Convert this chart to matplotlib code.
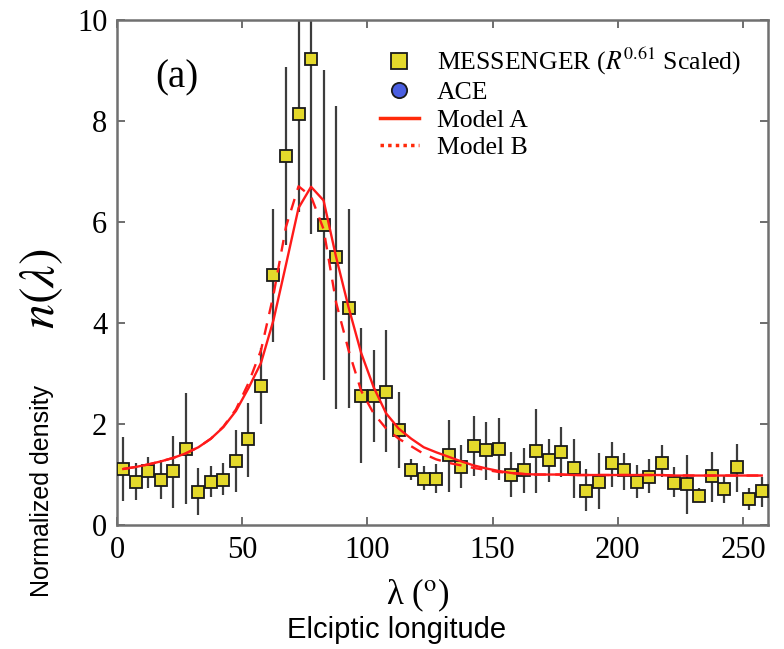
import matplotlib
matplotlib.use("Agg")
import matplotlib.pyplot as plt
from matplotlib.lines import Line2D
import numpy as np

# MESSENGER bins (ecliptic longitude, deg) and normalized density
lon = [2.5 + 5 * k for k in range(52)]
dens = [1.10, 0.85, 1.05, 0.88, 1.06, 1.50, 0.65, 0.85, 0.89, 1.26,
        1.69, 2.74, 4.95, 7.30, 8.14, 9.22, 5.93, 5.29, 4.28, 2.55,
        2.55, 2.63, 1.87, 1.08, 0.91, 0.90, 1.38, 1.14, 1.56, 1.48,
        1.49, 0.99, 1.07, 1.46, 1.28, 1.44, 1.11, 0.67, 0.85, 1.21,
        1.07, 0.84, 0.95, 1.22, 0.82, 0.80, 0.57, 0.96, 0.70, 1.13,
        0.50, 0.66]
err_lo = [0.47, 0.49, 0.72, 0.50, 0.33, 0.40, 0.18, 0.55, 0.58, 0.65,
          0.95, 2.00, 3.62, 5.53, 6.20, 5.76, 2.86, 2.28, 2.30, 1.22,
          1.63, 1.43, 1.11, 0.88, 0.68, 0.62, 0.65, 0.72, 0.96, 0.88,
          0.88, 0.55, 0.62, 0.63, 0.85, 0.95, 0.52, 0.27, 0.30, 0.75,
          0.68, 0.52, 0.62, 0.95, 0.54, 0.21, 0.45, 0.45, 0.43, 0.65,
          0.29, 0.34]
err_hi = [1.74, 1.21, 1.34, 1.28, 1.76, 2.60, 1.11, 1.15, 1.22, 1.87,
          2.41, 3.49, 6.25, 9.07, 10.5, 12.7, 9.00, 8.29, 6.25, 3.90,
          3.46, 3.85, 2.63, 1.29, 1.16, 1.19, 2.07, 1.57, 2.15, 2.04,
          2.10, 1.44, 1.51, 2.28, 1.69, 1.94, 1.69, 1.09, 1.41, 1.64,
          1.41, 1.18, 1.29, 1.57, 1.13, 1.38, 0.72, 1.44, 0.98, 1.59,
          0.72, 0.95]

# model curves, same bins
model_a = [1.10, 1.14, 1.19, 1.25, 1.32, 1.41, 1.53, 1.70, 1.93, 2.25,
           2.70, 3.20, 4.05, 5.15, 6.27, 6.69, 6.42, 5.30, 4.30, 3.40,
           2.72, 2.20, 1.90, 1.70, 1.53, 1.43, 1.34, 1.25, 1.17, 1.11,
           1.06, 1.02, 1.00, 0.99, 0.99, 0.99, 0.98, 0.98, 0.98, 0.98,
           0.98, 0.98, 0.98, 0.98, 0.97, 0.97, 0.97, 0.97, 0.97, 0.97,
           0.97, 0.97]
model_b = [1.10, 1.14, 1.19, 1.25, 1.32, 1.41, 1.53, 1.70, 1.94, 2.28,
           2.80, 3.45, 4.55, 5.90, 6.70, 6.50, 5.85, 4.40, 3.45, 2.65,
           2.20, 1.90, 1.70, 1.55, 1.40, 1.29, 1.22, 1.17, 1.12, 1.08,
           1.04, 1.02, 1.00, 0.99, 0.99, 0.99, 0.98, 0.98, 0.98, 0.98,
           0.98, 0.98, 0.98, 0.98, 0.97, 0.97, 0.97, 0.97, 0.97, 0.97,
           0.97, 0.97]

x_ticks = [0, 50, 100, 150, 200, 250]
y_ticks = [0, 2, 4, 6, 8, 10]

plt.rcParams['font.family'] = ['Liberation Serif', 'DejaVu Serif']
plt.rcParams['mathtext.fontset'] = 'stix'

W, H = 784, 649
fig = plt.figure(figsize=(W / 100, H / 100), dpi=100)
ax = fig.add_axes([117 / W, 1 - 524.5 / H, (768 - 117) / W, (524.5 - 19.7) / H])

dens = np.array(dens)
yerr = [dens - np.array(err_lo), np.array(err_hi) - dens]
ax.errorbar(lon, dens, yerr=yerr, fmt='none', ecolor='#3c3c3c',
            elinewidth=1.6, capsize=0, zorder=2)
ax.plot(lon, dens, 's', ms=8.5, mfc='#e4d92b', mec='#1a1a1a', mew=1.3,
        ls='none', zorder=3)
ax.plot(lon, model_a, '-', color='#ff1a1a', lw=1.7, zorder=4)
ax.plot(lon, model_b, '--', color='#ff1a1a', lw=1.7, dashes=(5, 4), zorder=4)

ax.set_xlim(0, 260)
ax.set_ylim(0, 10)
ax.set_xticks(x_ticks)
ax.set_yticks(y_ticks)
ax.tick_params(direction='in', length=6, width=1.2, color='#555555',
               top=True, right=True, labelsize=22)
ax.tick_params(axis='y', pad=7)
ax.tick_params(axis='x', pad=8)
for s in ax.spines.values():
    s.set_color('#707070')
    s.set_linewidth(1.8)

ax.text(0.092, 0.885, '(a)', transform=ax.transAxes, fontsize=28,
        ha='center', va='center')

handles = [
    Line2D([], [], marker='s', ms=11, mfc='#e4d92b', mec='#1a1a1a', mew=1.3, ls='none'),
    Line2D([], [], marker='o', ms=11, mfc='#4a5ee0', mec='#1a1a1a', mew=1.3, ls='none'),
    Line2D([], [], color='#ff2a0a', lw=2.5),
    Line2D([], [], color='#ff2a0a', lw=2.5, ls=(0, (1, 1.2))),
]
labels = ['MESSENGER ($R^{0.61}$ Scaled)', 'ACE', 'Model A', 'Model B']
fig.legend(handles, labels, loc='upper left', bbox_to_anchor=(380 / W, 1 - 46 / H),
           frameon=False, fontsize=18.5, labelspacing=0.17, handlelength=1.5,
           handletextpad=0.7, borderpad=0, borderaxespad=0)

# axis labels
fig.text(42 / W, 1 - 289 / H, r'$n(\lambda)$', rotation=90, fontsize=36,
         ha='center', va='center')
fig.text(42 / W, 1 - 491 / H, 'Normalized density', rotation=90, fontsize=18,
         family=['Liberation Sans', 'DejaVu Sans'], ha='center', va='center')
fig.text(418 / W, 1 - 595 / H, 'λ (' + r'$^{\rm o}$' + ')', fontsize=25,
         ha='center', va='center')
fig.text(397 / W, 1 - 630 / H, 'Elciptic longitude', fontsize=21,
         family=['Liberation Sans', 'DejaVu Sans'], ha='center', va='center')

fig.savefig('out.png', dpi=100)
